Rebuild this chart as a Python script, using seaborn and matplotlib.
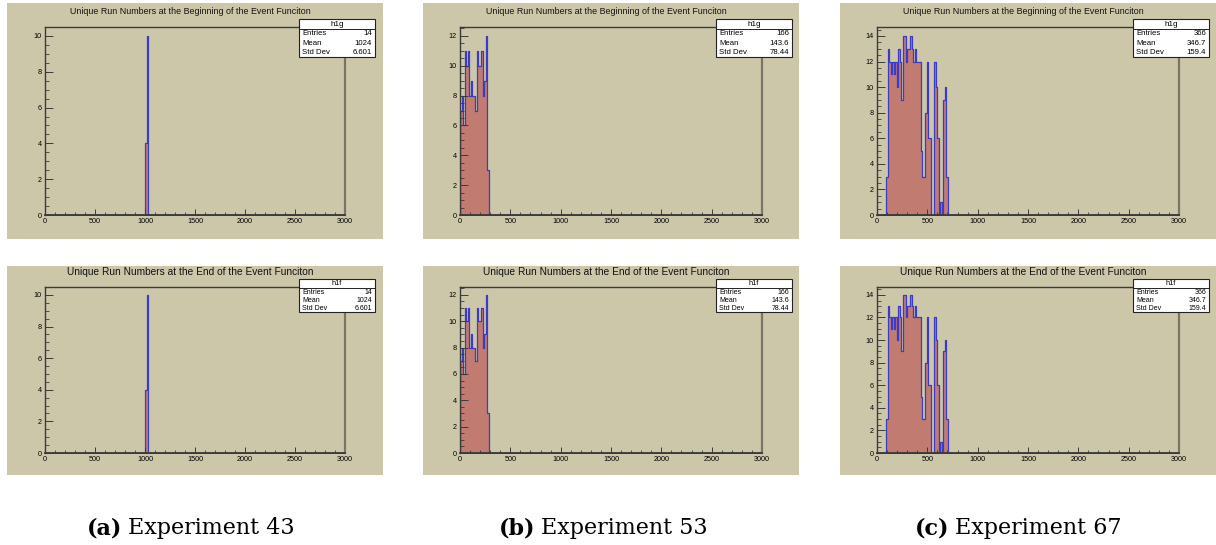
import numpy as np
import pandas as pd
import matplotlib.pyplot as plt
from matplotlib.patches import Rectangle
from matplotlib.ticker import MultipleLocator
import seaborn as sns

# histogram binning used by all runs (200 bins over 0..3000)
bin_width = 15
x_max = 3000

# counts per bin, starting at the given left edge
exp43_start = 1005
exp43_counts = [4, 10]
exp53_start = 0
exp53_counts = [7, 8, 6, 11, 10, 11, 8, 9, 8, 8, 7, 11, 10, 10, 11, 8, 9, 12, 3]
exp67_start = 90
exp67_counts = [3, 13, 12, 11, 12, 11, 12, 10, 13, 12, 9, 14, 14, 12, 13, 13, 14,
                13, 12, 13, 12, 12, 12, 5, 3, 3, 8, 12, 6, 6, 0, 0, 12, 10, 6,
                0, 1, 0, 9, 10, 3]

# stats box values as printed by ROOT
entries = ['14', '166', '366']
means = ['1024', '143.6', '346.7']
std_devs = ['6.601', '78.44', '159.4']

captions = ['Experiment 43', 'Experiment 53', 'Experiment 67']
letters = ['(a)', '(b)', '(c)']
titles = ['Unique Run Numbers at the Beginning of the Event Funciton',
          'Unique Run Numbers at the End of the Event Funciton']
hist_names = ['h1g', 'h1f']

starts = [exp43_start, exp53_start, exp67_start]
counts = [exp43_counts, exp53_counts, exp67_counts]

# colours
canvas_col = '#cdc7aa'
fill_col = '#c17b71'
line_col = '#3b3bc4'
frame_col = '#3a3a3a'

W, H = 1216, 545
fig = plt.figure(figsize=(W / 100, H / 100), dpi=100)
fig.patch.set_facecolor('white')


def fx(x):
    return x / W


def fy(y):
    return 1 - y / H


def fig_rect(x0, y0, x1, y1, **kw):
    r = Rectangle((fx(x0), fy(y1)), (x1 - x0) / W, (y1 - y0) / H,
                  transform=fig.transFigure, **kw)
    fig.add_artist(r)
    return r


# pixel layout: canvas left/right, axes left/right per column
canvas_x = [(7, 383), (423, 799), (840, 1216)]
axes_x = [(45, 345), (460, 762), (877, 1179)]
stats_x = [(299, 375), (716, 792), (1133, 1209)]
# rows: canvas top/bottom, axes top/bottom, title y, stats top/bottom, header height
rows = [
    dict(canvas=(3, 239), axes=(27, 215), title_y=11, stats=(19, 57), head=10,
         title_fs=6.4, stats_fs=5.6),
    dict(canvas=(266, 475), axes=(287, 453), title_y=272, stats=(279, 312), head=9,
         title_fs=7.3, stats_fs=5.0),
]

for r, row in enumerate(rows):
    for c in range(3):
        cx0, cx1 = canvas_x[c]
        cy0, cy1 = row['canvas']
        fig_rect(cx0, cy0, cx1, cy1, facecolor=canvas_col, edgecolor='none', zorder=0)

        ax0, ax1 = axes_x[c]
        ay0, ay1 = row['axes']
        ax = fig.add_axes([fx(ax0), fy(ay1), (ax1 - ax0) / W, (ay1 - ay0) / H])
        ax.set_facecolor(canvas_col)

        vals = np.array(counts[c], dtype=float)
        df = pd.DataFrame({'run': starts[c] + bin_width * (np.arange(len(vals)) + 0.5),
                           'n': vals})
        sns.histplot(data=df, x='run', weights='n', binwidth=bin_width,
                     binrange=(0, x_max), element='step', fill=True,
                     color=fill_col, edgecolor=line_col, alpha=1, linewidth=0.9, ax=ax)
        ax.set_xlim(0, x_max)
        ax.set_ylim(0, vals.max() * 1.05)
        ax.set_xlabel('')
        ax.set_ylabel('')

        for s in ax.spines.values():
            s.set_color(frame_col)
            s.set_linewidth(1.0)
            s.set_zorder(5)
        ax.spines['bottom'].set_linewidth(1.3)
        ax.spines['right'].set_color('#7a7466')
        ax.spines['right'].set_linewidth(1.6)

        ax.xaxis.set_major_locator(MultipleLocator(500))
        ax.xaxis.set_minor_locator(MultipleLocator(100))
        ax.yaxis.set_major_locator(MultipleLocator(2))
        ax.yaxis.set_minor_locator(MultipleLocator(0.5))
        ax.tick_params(axis='y', which='major', direction='in', length=6, width=0.7,
                       color=frame_col, labelsize=5.2, pad=2.5)
        ax.tick_params(axis='y', which='minor', direction='in', length=3, width=0.6,
                       color=frame_col)
        ax.tick_params(axis='x', which='major', direction='in', length=4, width=0.7,
                       color=frame_col, labelsize=5.2, pad=2.5)
        ax.tick_params(axis='x', which='minor', direction='in', length=2, width=0.6,
                       color=frame_col)
        for lab in ax.get_xticklabels() + ax.get_yticklabels():
            lab.set_fontfamily('Liberation Sans')

        # title
        fig.text(fx((cx0 + cx1) / 2 - 5), fy(row['title_y']), titles[r],
                 ha='center', va='center', fontsize=row['title_fs'],
                 family='Liberation Sans', color='#111111')

        # stats box
        sx0, sx1 = stats_x[c]
        sy0, sy1 = row['stats']
        fig_rect(sx0, sy0, sx1, sy1, facecolor='white', edgecolor='#222222',
                 linewidth=0.8, zorder=10)
        hy = sy0 + row['head']
        fig.add_artist(plt.Line2D([fx(sx0), fx(sx1)], [fy(hy), fy(hy)],
                                  transform=fig.transFigure, color='#222222',
                                  linewidth=0.7, zorder=11))
        fig.text(fx((sx0 + sx1) / 2), fy((sy0 + hy) / 2), hist_names[r],
                 ha='center', va='center', fontsize=row['stats_fs'] + 0.3,
                 family='Liberation Sans', zorder=12)
        rh = (sy1 - hy) / 3
        for k, (lab, val) in enumerate(zip(['Entries', 'Mean', 'Std Dev'],
                                           [entries[c], means[c], std_devs[c]])):
            yy = hy + rh * (k + 0.5)
            fig.text(fx(sx0 + 3), fy(yy), lab, ha='left', va='center',
                     fontsize=row['stats_fs'], family='Liberation Sans', zorder=12)
            fig.text(fx(sx1 - 3), fy(yy), val, ha='right', va='center',
                     fontsize=row['stats_fs'], family='Liberation Sans', zorder=12)

# sub-figure captions: bold letter, then the experiment name
cap_split = [128, 541, 955]
for c in range(3):
    fig.text(fx(cap_split[c] - 6), fy(534), letters[c], ha='right', va='baseline',
             fontsize=16, family='DejaVu Serif', fontweight='bold')
    fig.text(fx(cap_split[c]), fy(534), captions[c], ha='left', va='baseline',
             fontsize=16, family='DejaVu Serif')

fig.savefig('out.png', dpi=100, facecolor='white')
